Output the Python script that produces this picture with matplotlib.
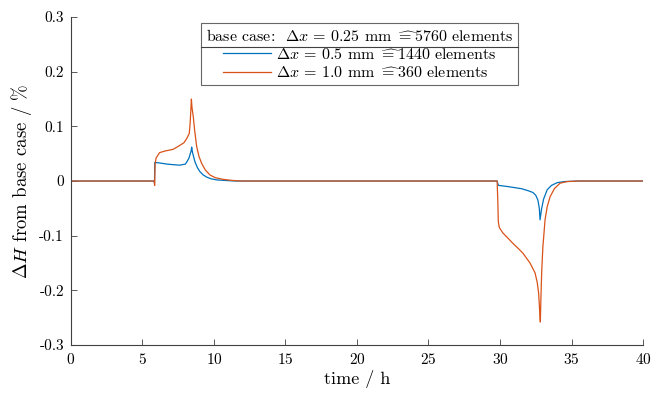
import numpy as np
import matplotlib
matplotlib.use("Agg")
import matplotlib.pyplot as plt
from matplotlib.lines import Line2D

plt.rcParams["font.family"] = ["cmr10", "DejaVu Sans"]
plt.rcParams["mathtext.fontset"] = "cm"
plt.rcParams["axes.unicode_minus"] = False
plt.rcParams["axes.formatter.use_mathtext"] = True

# values (time in h, deviation in %)
t_coarse05 = [0, 5.82, 5.84, 5.86, 6.2, 6.7, 7.1, 7.6, 8.0, 8.1, 8.25, 8.32, 8.4, 8.44,
              8.5, 8.67, 8.85, 9.02, 9.25, 9.5, 9.8, 10.2, 10.8, 11.5,
              29.8, 29.86, 29.9, 30.5, 31.0, 31.5, 32.0, 32.3, 32.5, 32.65, 32.75, 32.8,
              32.9, 33.05, 33.3, 33.6, 34.0, 34.5, 35.5, 40]
dH_coarse05 = [0, 0, -0.004, 0.034, 0.033, 0.031, 0.030, 0.029, 0.031, 0.035, 0.042, 0.048, 0.055, 0.062,
               0.052, 0.035, 0.024, 0.017, 0.011, 0.007, 0.004, 0.002, 0.001, 0,
               0, -0.006, -0.008, -0.010, -0.012, -0.014, -0.018, -0.021, -0.026, -0.035, -0.05, -0.071,
               -0.052, -0.033, -0.016, -0.008, -0.003, -0.001, 0, 0]

t_coarse10 = [0, 5.82, 5.85, 5.88, 5.95, 6.2, 6.6, 7.15, 7.6, 7.9, 8.1, 8.27, 8.33, 8.37, 8.42, 8.46,
              8.55, 8.65, 8.79, 8.95, 9.14, 9.4, 9.72, 10.1, 10.65, 11.3, 12,
              29.8, 29.85, 29.88, 29.95, 30.2, 30.5, 30.9, 31.3, 31.6, 32.1, 32.45, 32.6, 32.7, 32.78, 32.82,
              32.86, 32.92, 33.0, 33.15, 33.3, 33.5, 33.8, 34.2, 34.7, 35.5, 40]
dH_coarse10 = [0, 0, -0.008, 0.030, 0.042, 0.052, 0.055, 0.058, 0.065, 0.070, 0.078, 0.087, 0.105, 0.124, 0.150, 0.135,
               0.118, 0.092, 0.063, 0.045, 0.032, 0.020, 0.011, 0.006, 0.003, 0.001, 0,
               0, -0.040, -0.074, -0.085, -0.095, -0.103, -0.114, -0.124, -0.132, -0.150, -0.168, -0.185, -0.205, -0.240, -0.258,
               -0.215, -0.163, -0.120, -0.071, -0.047, -0.029, -0.014, -0.004, -0.001, 0, 0]

legend_title = r"base case:  $\Delta x$ = 0.25 mm $\widehat{=}$5760 elements"
labels = [r"$\Delta x$ = 0.5 mm $\widehat{=}$1440 elements", r"$\Delta x$ = 1.0 mm $\widehat{=}$360 elements"]

fig = plt.figure(figsize=(6.53, 3.93), dpi=100)
ax = fig.add_axes([0.1087, 0.1221, 0.876, 0.8346])

ax.plot(t_coarse05, dH_coarse05, color="#0072BD", linewidth=0.9, label=labels[0])
ax.plot(t_coarse10, dH_coarse10, color="#D95319", linewidth=0.9, label=labels[1])

ax.set_xlim(0, 40)
ax.set_ylim(-0.3, 0.3)
ax.set_xticks(np.arange(0, 41, 5))
ax.set_yticks(np.arange(-0.3, 0.31, 0.1))
ax.set_yticklabels(["-0.3", "-0.2", "-0.1", "0", "0.1", "0.2", "0.3"])

for s in ["top", "right"]:
    ax.spines[s].set_visible(False)
for s in ["left", "bottom"]:
    ax.spines[s].set_color("#404040")
    ax.spines[s].set_linewidth(0.8)
ax.tick_params(direction="in", length=4, width=0.6, colors="#404040",
               labelcolor="black", labelsize=11, pad=5)

ax.set_xlabel("time / h", fontsize=13, labelpad=2)
ax.set_ylabel(r"$\Delta H$ from base case / %", fontsize=13.5, labelpad=4)

leg = ax.legend(loc="upper center", bbox_to_anchor=(0.505, 0.982), title=legend_title,
                fontsize=11.5, title_fontsize=11.5, frameon=True, fancybox=False,
                handlelength=3.0, handletextpad=0.3, borderpad=0.3, labelspacing=0.2,
                borderaxespad=0)
leg.get_frame().set_edgecolor("#404040")
leg.get_frame().set_linewidth(0.8)

# separator line under the legend title, like the MATLAB legend
fig.canvas.draw()
lb = leg.get_window_extent()
tb = leg.get_title().get_window_extent()
inv = fig.transFigure.inverted()
y_sep = tb.y0 - 3
(x0, y0) = inv.transform((lb.x0, y_sep))
(x1, _) = inv.transform((lb.x1, y_sep))
fig.add_artist(Line2D([x0, x1], [y0, y0], transform=fig.transFigure, color="#404040", linewidth=0.8))

fig.savefig("out.png", dpi=100)
plt.close(fig)
